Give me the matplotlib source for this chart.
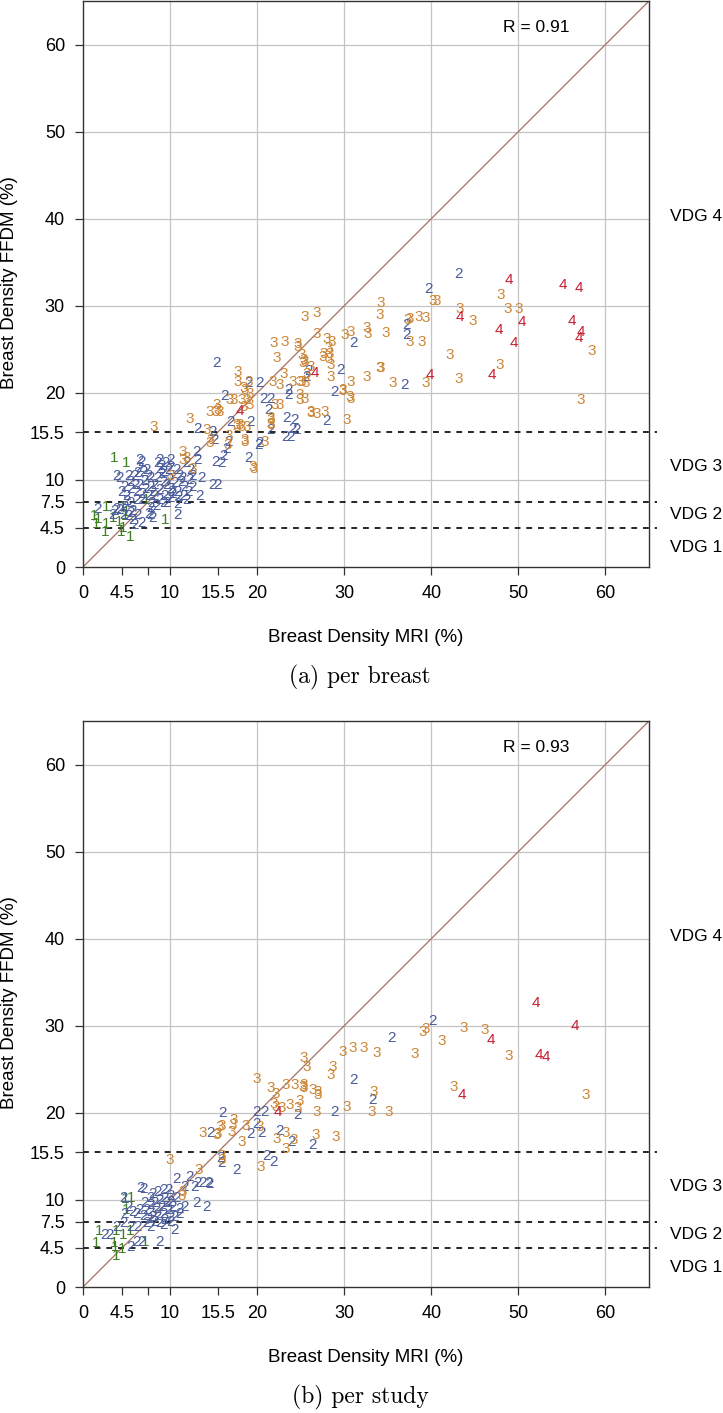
import matplotlib
matplotlib.use("Agg")
import matplotlib.pyplot as plt

# ---- data (x = MRI %, y = FFDM %) ----
# (a) per breast
a1_x = [3.6, 5.0, 7.3, 9.4, 5.4, 4.4, 2.5, 2.7, 1.5, 1.7, 2.7, 4.6, 4.8, 4.2, 3.5, 1.3, 4.9, 4.6]
a1_y = [12.5, 11.9, 7.7, 5.4, 3.5, 4.0, 4.0, 4.9, 4.9, 5.5, 6.9, 6.9, 5.8, 5.2, 5.6, 5.9, 6.3, 4.5]

a2_x = [43.1, 39.7, 37.2, 37.2, 31.1, 36.9, 29.6, 28.9, 28.0, 25.9, 25.7, 23.6, 23.6, 15.3, 19.0,
        20.3, 16.3, 20.7, 21.5, 21.3, 19.2, 16.9, 23.4, 24.3, 23.2, 23.8, 20.3, 19.0, 21.5, 24.1,
        24.5, 15.2, 15.9, 16.5, 16.7, 16.1, 13.2, 14.9, 15.1, 20.1, 13.0, 13.2, 11.9, 12.4, 6.5,
        6.7, 8.8, 10.0, 13.6, 14.9, 15.5, 13.4, 10.9, 1.7, 3.4, 3.8,
        3.8, 4.2, 5.2, 5.4, 4.8, 4.4, 5.0, 5.5, 6.1, 6.5, 7.1, 7.5, 7.3, 6.9, 7.7, 8.0, 8.2, 7.5,
        6.7, 6.1, 5.4, 4.8, 4.2, 5.7, 6.3, 6.7, 7.8, 7.7, 8.4, 8.8, 9.2, 9.4, 8.8, 8.6, 9.0, 9.2,
        9.6, 10.0, 10.3, 9.8, 10.1, 10.7, 11.1, 11.3, 11.7, 10.9, 11.5, 12.1, 12.2, 12.6, 12.6, 11.9,
        9.6, 10.0, 8.2, 7.7, 5.9, 6.3, 6.5, 8.8, 5.5, 5.2, 5.7, 5.9, 4.6, 3.6, 8.0, 7.5,
        9.3, 9.9, 10.5, 11.0, 9.0, 9.5, 10.2, 11.4, 7.2, 6.8, 7.9, 6.0, 5.0, 8.5, 10.8]
a2_y = [33.6, 31.9, 27.8, 26.6, 25.7, 20.9, 22.6, 20.1, 16.8, 22.5, 21.8, 20.3, 19.7, 23.4, 21.1,
        21.1, 19.6, 19.3, 19.3, 18.0, 16.7, 16.7, 17.1, 16.9, 14.9, 14.9, 14.2, 12.5, 15.7, 15.9,
        15.7, 12.1, 11.9, 13.6, 14.4, 12.8, 15.9, 15.5, 14.6, 14.0, 13.2, 12.3, 11.9, 11.1, 12.3,
        12.1, 12.3, 12.3, 10.2, 9.4, 9.4, 8.2, 6.0, 6.7, 6.0, 6.7,
        10.4, 10.2, 10.5, 9.8, 9.2, 8.6, 8.2, 9.0, 8.6, 9.4, 9.9, 10.5, 11.1, 10.9, 9.2, 8.6, 8.1, 8.1,
        7.7, 7.7, 7.3, 6.9, 6.6, 6.4, 6.0, 5.0, 6.0, 6.8, 7.0, 7.7, 7.3, 8.1, 8.8, 10.2, 10.7, 9.8,
        9.4, 9.0, 8.4, 11.1, 11.5, 11.1, 10.5, 9.8, 9.2, 8.6, 8.2, 8.6, 10.0, 10.4, 9.2, 7.7,
        7.3, 7.9, 9.4, 10.2, 10.4, 10.8, 11.4, 11.3, 6.2, 5.8, 5.4, 4.8, 6.0, 6.4, 5.6, 6.1,
        10.9, 10.0, 9.6, 8.0, 11.6, 12.0, 8.6, 10.2, 9.0, 8.4, 7.4, 9.4, 7.6, 11.9, 7.2]

a3_x = [48.0, 40.2, 40.6, 48.8, 50.0, 43.3, 44.8, 58.4, 42.1, 34.2, 34.1, 26.8, 25.5, 32.6, 32.7,
        34.8, 37.5, 38.5, 39.3, 37.5, 38.9, 30.1, 30.7, 26.8, 28.0, 28.6, 28.2, 27.6, 47.9, 43.1,
        39.4, 35.6, 34.1, 32.6, 30.7, 30.6, 29.8, 28.4, 28.4, 28.3, 57.1, 26.1, 26.8, 27.8, 30.3,
        37.3, 27.5, 28.2, 21.9, 23.2, 24.7, 24.6, 22.3, 25.1, 25.3, 25.2, 25.5, 26.2, 25.7, 34.2,
        23.0, 21.8, 22.6, 24.1, 24.9, 17.8, 17.8, 18.4, 19.0, 18.6, 19.2, 18.8, 18.2, 16.9, 17.3,
        18.4, 19.2, 24.9, 24.9, 25.5, 25.1, 25.6, 29.8, 30.7, 22.0, 22.6, 14.6, 15.2, 15.5, 15.7,
        15.3, 21.5, 21.5, 12.2, 17.6, 18.2, 18.8, 8.1, 14.2, 14.5, 14.7, 17.6, 18.0, 18.6, 19.5,
        16.7, 16.6, 11.5, 11.9, 12.6, 11.5, 10.1, 18.6, 19.6, 20.9, 21.5, 21.5, 26.1]
a3_y = [31.2, 30.6, 30.6, 29.6, 29.6, 29.6, 28.3, 24.8, 24.4, 30.3, 28.9, 29.2, 28.7, 27.4, 26.8,
        26.9, 28.5, 28.7, 28.6, 25.8, 25.8, 26.6, 27.0, 26.8, 26.2, 25.8, 25.1, 24.5, 23.2, 21.6,
        21.1, 21.1, 22.9, 21.8, 21.3, 19.5, 20.2, 21.8, 23.2, 24.5, 19.2, 17.8, 17.6, 17.8, 16.9,
        28.4, 24.1, 23.9, 25.7, 25.8, 25.6, 25.3, 24.0, 24.3, 23.8, 23.4, 23.5, 23.0, 22.2, 22.9,
        22.2, 21.3, 20.9, 21.3, 21.3, 22.4, 21.3, 20.5, 21.3, 20.3, 19.9, 19.2, 19.2, 19.2, 19.2,
        18.4, 18.6, 19.7, 19.2, 19.3, 21.3, 21.1, 20.3, 19.3, 18.6, 18.6, 17.8, 17.8, 18.0, 17.8,
        18.6, 17.1, 16.4, 17.0, 16.1, 16.1, 16.1, 16.1, 15.7, 14.2, 14.6, 16.3, 16.3, 14.6, 11.5,
        15.0, 14.0, 13.2, 12.5, 11.3, 12.3, 10.5, 14.4, 11.3, 14.4, 16.9, 16.3, 17.7]

a4_x = [48.9, 55.1, 57.0, 43.3, 50.4, 56.1, 57.2, 57.0, 47.8, 49.5, 47.0, 39.8, 26.6, 18.0]
a4_y = [33.0, 32.4, 32.0, 28.7, 28.1, 28.2, 27.0, 26.3, 27.2, 25.7, 22.1, 22.1, 22.3, 17.9]

# (b) per study
b1_x = [7.1, 5.4, 3.8, 3.6, 4.5, 3.8, 1.9, 1.5, 4.8, 5.5, 5.0, 4.6, 3.7]
b1_y = [5.2, 6.4, 6.4, 5.0, 4.4, 3.6, 6.4, 5.0, 10.1, 10.2, 8.8, 6.0, 4.6]

b2_x = [40.1, 35.4, 31.1, 33.3, 28.9, 26.4, 16.0, 14.6, 19.9, 20.9, 24.6, 19.9, 20.5, 19.2,
        22.6, 23.9, 21.1, 21.9, 15.9, 15.8, 17.6,
        10.7, 12.2, 13.2, 12.8, 13.7, 14.4, 14.5, 6.6, 6.9, 11.7, 13.0, 14.2, 11.7, 11.1, 10.5,
        9.2, 10.5, 8.8, 2.5, 3.1, 4.6, 5.2, 4.8, 5.7, 6.1, 5.5, 6.3, 7.3, 7.8, 5.4, 6.1, 6.7, 4.6,
        3.8, 8.0, 8.6, 9.2, 9.8, 10.0, 9.4, 8.8, 8.2, 7.7, 7.3, 7.8, 8.4, 9.0, 9.6, 10.1, 10.7,
        10.3, 9.8, 9.2, 8.6, 8.0, 7.5, 6.9, 6.5, 7.1, 7.7, 10.0, 11.1, 9.4, 8.8, 8.2, 10.1]
b2_y = [30.5, 28.6, 23.8, 21.5, 20.1, 16.3, 20.0, 17.7, 20.1, 20.1, 19.7, 18.7, 17.7, 17.6,
        17.9, 16.7, 15.0, 14.4, 14.2, 14.8, 13.4,
        12.4, 12.6, 12.0, 11.5, 12.0, 12.0, 11.8, 11.4, 11.3, 11.5, 9.6, 9.2, 9.2, 9.0, 8.0,
        7.1, 6.5, 5.2, 6.0, 6.0, 10.2, 9.2, 8.4, 8.6, 8.4, 6.9, 6.9, 7.3, 6.9, 4.6, 5.2, 5.2, 7.3,
        6.9, 10.7, 10.9, 11.1, 11.1, 10.5, 10.2, 10.0, 9.6, 9.4, 8.8, 8.6, 9.0, 9.2, 9.6, 9.8, 10.2,
        9.2, 8.8, 8.4, 8.2, 8.0, 7.8, 8.2, 8.8, 9.6, 10.2, 8.0, 8.4, 7.7, 7.3, 7.5, 7.5]

b3_x = [39.0, 39.4, 43.7, 46.1, 41.2, 29.8, 31.0, 32.2, 33.7, 38.1, 48.9, 42.6, 57.7, 28.7,
        28.5, 33.4, 30.3, 33.1, 35.1, 26.8, 26.7, 29.0, 25.3, 26.4, 27.0, 24.9, 25.4, 25.7, 19.9,
        21.6, 22.1, 21.9, 22.1, 23.3, 24.3, 25.2, 25.4, 26.9, 23.7, 24.7, 22.8, 17.3, 17.2, 17.1,
        15.9, 15.5, 13.7, 18.7, 18.2, 20.3, 22.2, 23.3, 24.2, 23.3, 20.4, 15.9, 15.9, 9.9, 13.3,
        11.5, 11.3, 15.7, 15.3]
b3_y = [29.3, 29.6, 29.8, 29.5, 28.3, 27.0, 27.4, 27.4, 26.9, 26.8, 26.5, 23.0, 22.0, 25.3,
        24.3, 22.4, 20.7, 20.1, 20.1, 20.1, 17.5, 17.2, 23.2, 22.6, 22.0, 21.4, 26.3, 25.3, 23.9,
        22.9, 22.2, 21.0, 20.7, 23.2, 23.2, 23.0, 22.9, 22.4, 20.9, 20.5, 20.5, 19.2, 18.6, 17.8,
        18.5, 17.6, 17.7, 18.5, 16.7, 18.4, 17.0, 17.7, 16.9, 15.9, 13.8, 15.1, 14.6, 14.6, 13.4,
        10.9, 10.5, 18.4, 17.4]

b4_x = [52.0, 56.5, 46.8, 52.4, 53.2, 43.5, 22.4]
b4_y = [32.6, 30.0, 28.4, 26.7, 26.4, 22.1, 20.1]

r_values = ["R = 0.91", "R = 0.93"]
captions = ["(a) per breast", "(b) per study"]

ticks = [0, 4.5, 7.5, 10, 15.5, 20, 30, 40, 50, 60]
xtick_labels = ["0", "4.5", "", "10", "15.5", "20", "30", "40", "50", "60"]
ytick_labels = ["0", "4.5", "7.5", "10", "15.5", "20", "30", "40", "50", "60"]
grid_vals = [10, 20, 30, 40, 50, 60]
vdg_cuts = [4.5, 7.5, 15.5]
vdg_names = ["VDG 1", "VDG 2", "VDG 3", "VDG 4"]
vdg_pos = [2.25, 6.0, 11.5, 40.25]

grade_colors = {1: "#3f7d22", 2: "#4a5d9c", 3: "#cc8636", 4: "#c81e30"}

plt.rcParams['font.family'] = ['Liberation Sans', 'DejaVu Sans']

fig = plt.figure(figsize=(7.23, 14.13), dpi=100)
W, H = 723, 1413


def draw_panel(ax, groups, rtext):
    ax.set_xlim(0, 65)
    ax.set_ylim(0, 65)
    for g in grid_vals:
        ax.axvline(g, color="#c4c4c4", lw=0.9, zorder=0)
        ax.axhline(g, color="#c4c4c4", lw=0.9, zorder=0)
    ax.plot([0, 65], [0, 65], color="#a5705f", lw=0.9, zorder=1)
    for c in vdg_cuts:
        ax.plot([0, 65.9], [c, c], color="black", lw=1.2, dashes=(3.5, 3.5),
                clip_on=False, zorder=2)
    for grade, (xs, ys) in groups.items():
        for x, y in zip(xs, ys):
            ax.text(x, y, str(grade), color=grade_colors[grade], fontsize=11,
                    ha="center", va="center", zorder=3)
    ax.text(52, 62, rtext, fontsize=12.5, ha="center", va="center")
    for name, pos in zip(vdg_names, vdg_pos):
        ax.text(67.4, pos, name, fontsize=12.5, ha="left", va="center", clip_on=False)
    ax.set_xticks(ticks)
    ax.set_xticklabels(xtick_labels)
    ax.set_yticks(ticks)
    ax.set_yticklabels(ytick_labels)
    ax.tick_params(direction="out", length=6, width=0.9, labelsize=13, pad=7,
                   color="#333333")
    for sp in ax.spines.values():
        sp.set_color("#333333")
        sp.set_linewidth(1.0)


axA = fig.add_axes([83 / W, 1 - 567 / H, 566 / W, 566 / H])
draw_panel(axA, {1: (a1_x, a1_y), 2: (a2_x, a2_y), 3: (a3_x, a3_y), 4: (a4_x, a4_y)}, r_values[0])
axB = fig.add_axes([83 / W, 1 - 1287 / H, 566 / W, 566 / H])
draw_panel(axB, {1: (b1_x, b1_y), 2: (b2_x, b2_y), 3: (b3_x, b3_y), 4: (b4_x, b4_y)}, r_values[1])

for top, cap_y, cap in [(0, 677, captions[0]), (720, 1397, captions[1])]:
    fig.text(10 / W, 1 - (top + 283) / H, "Breast Density FFDM (%)", rotation=90,
             ha="center", va="center", fontsize=13.5)
    fig.text(366 / W, 1 - (top + 637) / H, "Breast Density MRI (%)",
             ha="center", va="center", fontsize=13.5)
    fig.text(360 / W, 1 - cap_y / H, cap, ha="center", va="center", fontsize=17,
             family="cmr10")

fig.savefig("out.png", dpi=100)
